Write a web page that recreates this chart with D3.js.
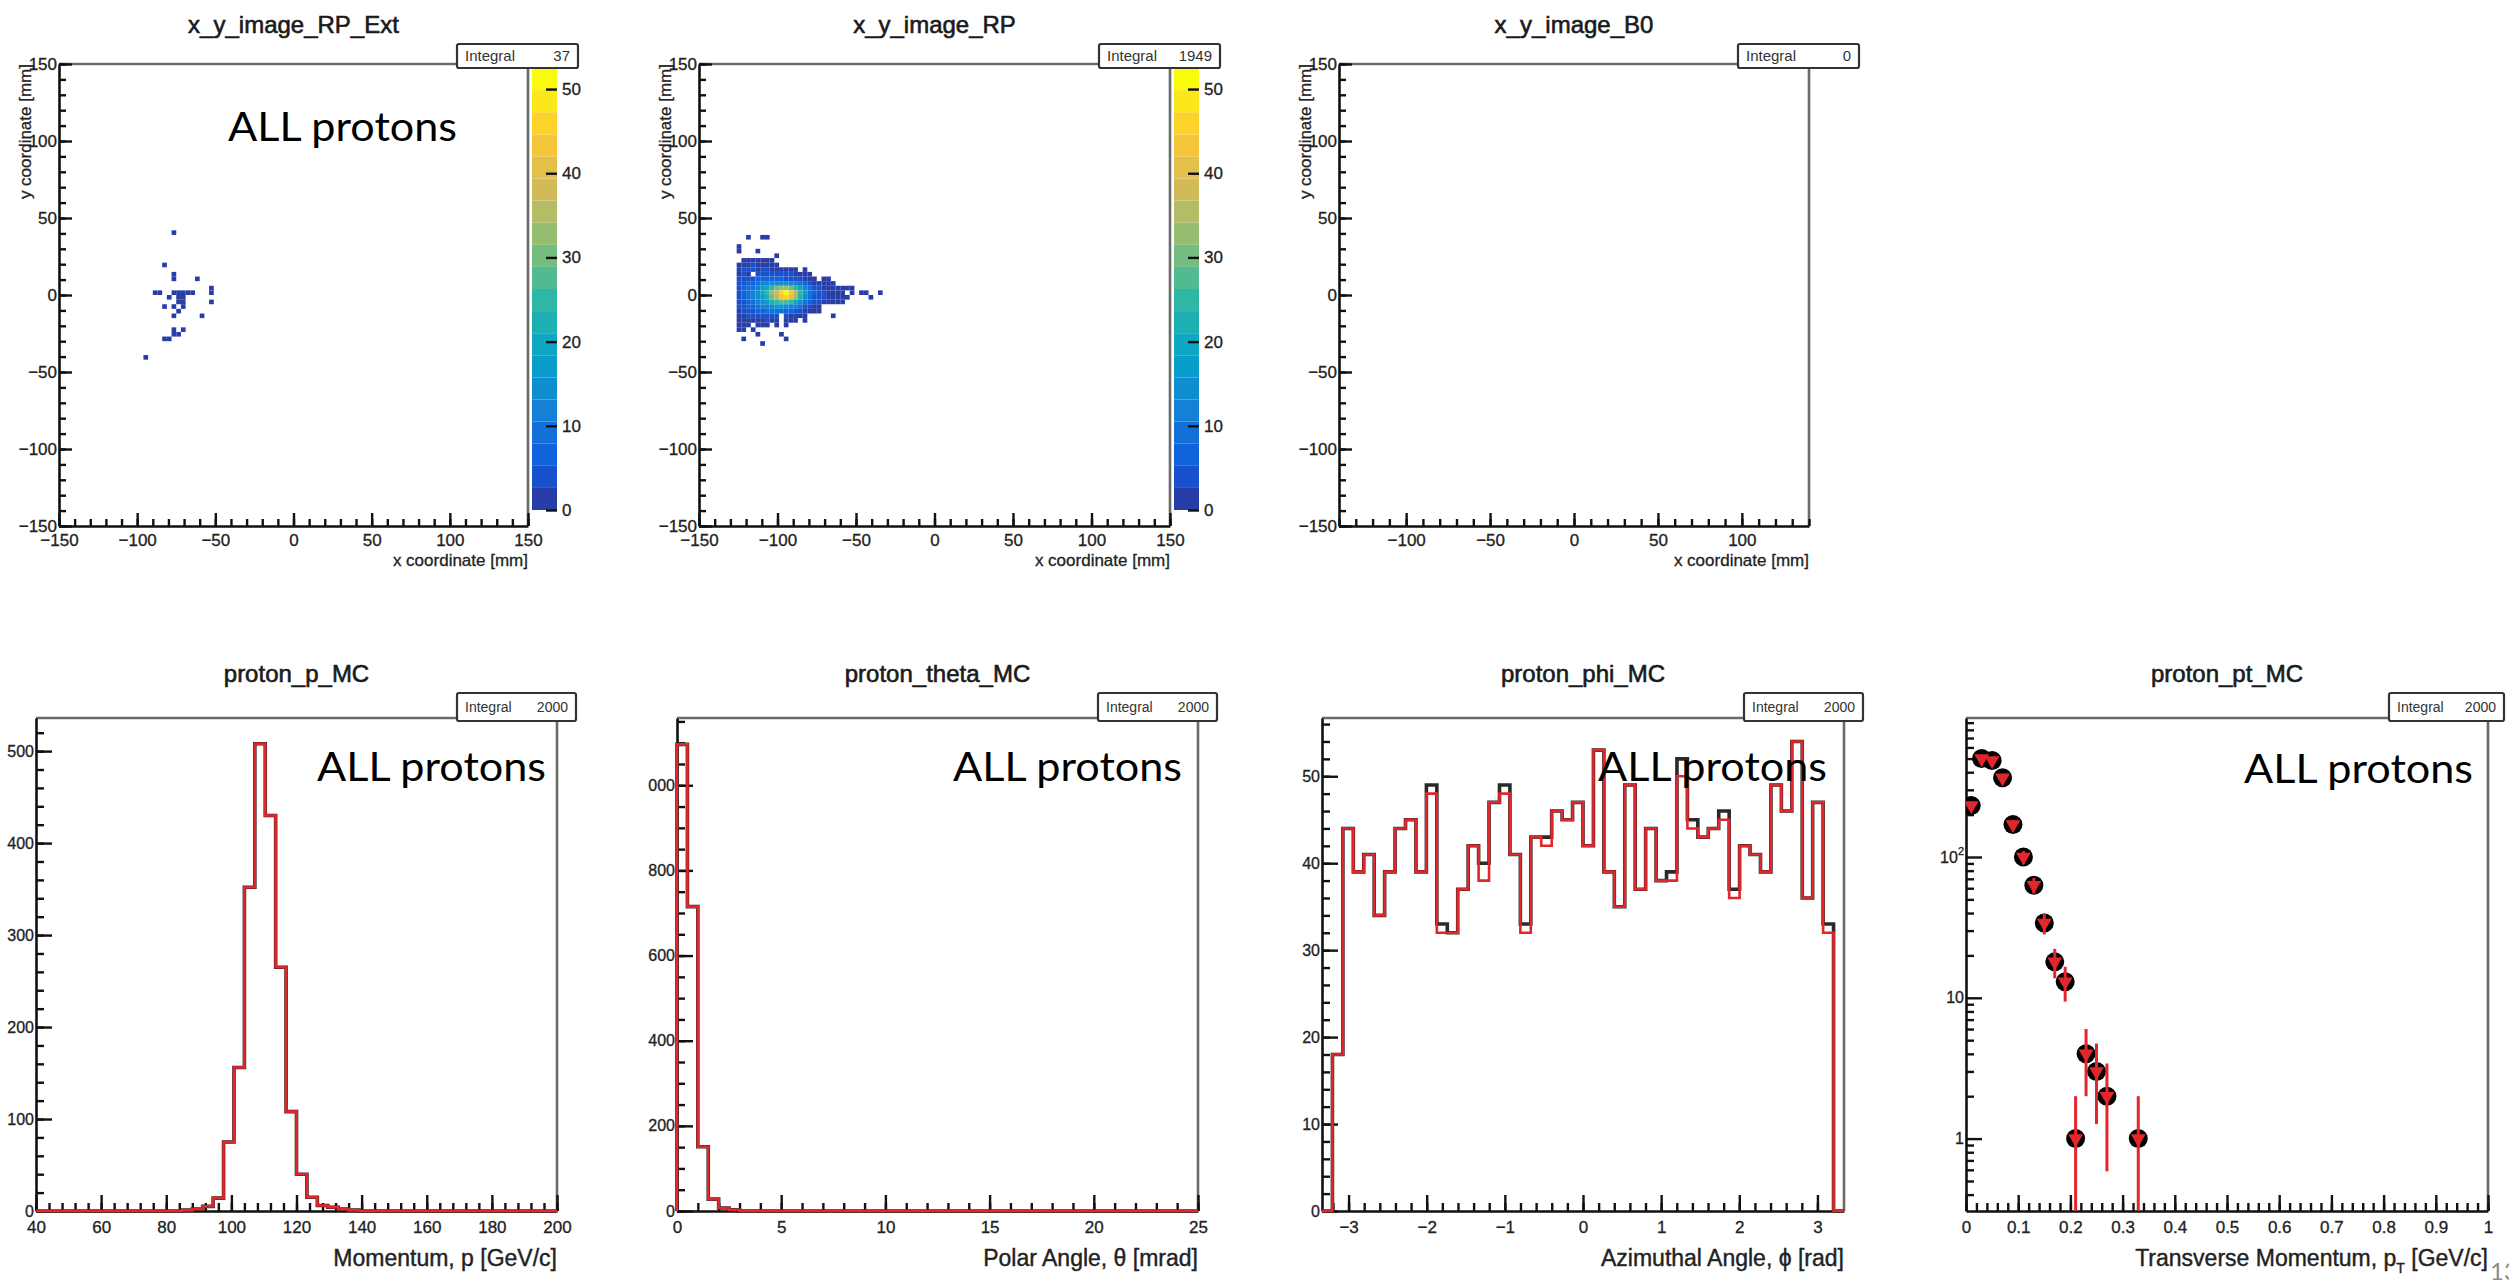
<!DOCTYPE html>
<html>
<head>
<meta charset="utf-8">
<title>proton plots</title>
<script src="https://cdn.jsdelivr.net/npm/d3@7/dist/d3.min.js"></script>
<style>
  body { margin: 0; background: #fff; }
  svg { display: block; }
</style>
</head>
<body>
<script>
var ROOTFONT = '"Liberation Sans", Arial, Helvetica, sans-serif'
var SLIDEFONT = 'Lato, "Open Sans", sans-serif'

// ---------- values ----------
var xyRange = [-150, 150]
var xyBinWidth = 3
var b0XRange = [-140, 140]
var xyMajor = [-150, -100, -50, 0, 50, 100, 150]
var b0Major = [-100, -50, 0, 50, 100]

var zMax = 52.5
var zLevels = 20
var zTicks = [0, 10, 20, 30, 40, 50]

// ROOT kBird palette
var birdStops = [0, 0.125, 0.25, 0.375, 0.5, 0.625, 0.75, 0.875, 1]
var birdR = [0.2082, 0.0592, 0.0780, 0.0232, 0.1802, 0.5301, 0.8186, 0.9956, 0.9764]
var birdG = [0.1664, 0.3599, 0.5041, 0.6419, 0.7178, 0.7492, 0.7328, 0.7862, 0.9832]
var birdB = [0.5293, 0.8684, 0.8385, 0.7914, 0.6425, 0.4662, 0.3499, 0.1968, 0.0539]

// x_y_image_RP_Ext  [binX, binY, entries]
var rpExtCells = [
  [24,63,1],[22,56,1],[24,54,1],[24,53,1],[29,53,1],[20,50,1],[21,50,1],[24,50,1],
  [25,50,2],[26,50,2],[27,50,1],[28,50,1],[23,49,1],[25,49,2],[26,49,2],[25,48,1],
  [26,48,1],[26,47,1],[32,51,1],[32,50,1],[32,48,1],[22,47,1],[24,47,1],[25,46,1],
  [24,45,1],[30,45,1],[24,42,1],[26,42,1],[24,41,1],[25,41,1],[22,40,1],[23,40,1],
  [18,36,1]
]

// x_y_image_RP  rows: binY, first binX, entries along x
var rpRows = [
  {y: 62, x0: 10, n: [1,0,0,1,1]},
  {y: 60, x0: 8,  n: [1]},
  {y: 59, x0: 8,  n: [1,0,0,0,1]},
  {y: 58, x0: 16, n: [1]},
  {y: 57, x0: 9,  n: [1,2,2,1,1,2,1]},
  {y: 56, x0: 8,  n: [1,2,1,3,2,2,2,1,1]},
  {y: 55, x0: 8,  n: [2,3,3,3,2,3,3,2,2,2,1,2,1,0,1]},
  {y: 54, x0: 8,  n: [2,3,2,0,3,4,4,4,3,3,3,3,2,2,1,1]},
  {y: 53, x0: 8,  n: [3,4,5,5,6,7,7,7,6,6,5,5,4,3,2,2,1,0,1,1]},
  {y: 52, x0: 8,  n: [3,5,6,7,9,11,13,14,15,15,15,13,11,8,6,4,2,2,1,1,1]},
  {y: 51, x0: 8,  n: [4,6,8,10,12,16,20,25,29,32,34,31,26,20,13,8,5,3,2,2,1,1,1,1,1]},
  {y: 50, x0: 8,  n: [5,7,9,11,14,19,25,32,39,45,50,44,35,25,16,10,6,4,3,2,2,1,1,0,1,0,1,1,0,0,1]},
  {y: 49, x0: 8,  n: [5,7,9,11,14,18,23,30,36,42,46,40,32,23,15,9,5,4,3,2,2,1,1,1,0,0,0,0,1]},
  {y: 48, x0: 8,  n: [4,5,7,9,11,14,18,22,26,28,28,25,20,15,10,6,4,3,2,1,1,1,1]},
  {y: 47, x0: 8,  n: [3,4,6,7,9,11,13,15,16,16,15,13,11,8,5,3,2,1]},
  {y: 46, x0: 8,  n: [2,3,4,5,6,7,8,8,8,8,7,6,5,3,2,1,1,1]},
  {y: 45, x0: 8,  n: [2,2,3,3,4,4,4,4,3,0,3,2,2,1,1,0,0,0,0,0,1]},
  {y: 44, x0: 8,  n: [1,2,2,2,2,2,3,2,2,0,2,1,1,0,1]},
  {y: 43, x0: 8,  n: [1,1,1,0,1,1,1,0,1,0,1]},
  {y: 42, x0: 8,  n: [1,1,0,1]},
  {y: 41, x0: 12, n: [1,0,0,0,0,1]},
  {y: 40, x0: 9,  n: [1,0,0,0,0,0,0,0,0,1]},
  {y: 39, x0: 13, n: [1]}
]

// proton_p_MC : 50 bins, 40..200 GeV/c
var pRange = [40, 200]
var pYMax = 536
var pCounts = [0,0,0,0,0,0,0,0,0,0, 0,0,0,0,1,2,5,14,75,156,
               352,508,430,265,108,40,15,6,4,2, 1,0,0,0,0,0,0,0,0,0,
               0,0,0,0,0,0,0,0,0,0]
var pMajor = [40, 60, 80, 100, 120, 140, 160, 180, 200]
var pYMajor = [0, 100, 200, 300, 400, 500]

// proton_theta_MC : 50 bins, 0..25 mrad
var thetaRange = [0, 25]
var thetaYMax = 1158
var thetaCounts = [1096,715,151,28,7,3,0,0,0,0, 0,0,0,0,0,0,0,0,0,0,
                   0,0,0,0,0,0,0,0,0,0, 0,0,0,0,0,0,0,0,0,0,
                   0,0,0,0,0,0,0,0,0,0]
var thetaMajor = [0, 5, 10, 15, 20, 25]
var thetaYMajor = [0, 200, 400, 600, 800, 1000]

// proton_phi_MC : 50 bins, black = first histogram, red = second
var phiRange = [-3.34, 3.34]
var phiYMax = 56.7
var phiCountsBlack = [0,18,44,39,41,34,39,44,45,39, 49,33,32,37,42,40,47,49,41,33,
                      43,43,46,45,47,42,53,39,35,49, 37,44,38,39,52,45,43,44,46,37,
                      42,41,39,49,46,54,36,47,33,0]
var phiCountsRed   = [0,18,44,39,41,34,39,44,45,39, 48,32,32,37,42,38,47,48,41,32,
                      43,42,46,45,47,42,53,39,35,49, 37,44,38,38,50,44,43,44,45,36,
                      42,41,39,49,46,54,36,47,32,0]
var phiMajor = [-3, -2, -1, 0, 1, 2, 3]
var phiYMajor = [0, 10, 20, 30, 40, 50]

// proton_pt_MC : bin centres (bin width 0.02 GeV/c) and entries
var ptCenters = [0.01,0.03,0.05,0.07,0.09,0.11,0.13,0.15,0.17,0.19,0.21,0.23,0.25,0.27,0.33]
var ptCounts  = [232,500,485,365,170,100,63,34,18,13,1,4,3,2,1]
var ptRange = [0, 1]
var ptYRange = [0.306, 971]
var ptMajor = [0,0.1,0.2,0.3,0.4,0.5,0.6,0.7,0.8,0.9,1]
var ptYMajor = [1, 10, 100]
var ptYMinor = [0.4,0.5,0.6,0.7,0.8,0.9,2,3,4,5,6,7,8,9,20,30,40,50,60,70,80,90,200,300,400,500,600,700,800,900]

// ---------- layout ----------
var topFrames = [
  {L: 59,   R: 528,  T: 64, B: 526},
  {L: 699,  R: 1170, T: 64, B: 526},
  {L: 1339, R: 1809, T: 64, B: 526}
]
var botFrames = [
  {L: 36,   R: 557,  T: 718, B: 1211},
  {L: 677,  R: 1198, T: 718, B: 1211},
  {L: 1322, R: 1844, T: 718, B: 1211},
  {L: 1966, R: 2488, T: 718, B: 1211}
]

var svg = d3.select('body').append('svg').attr('width', 2509).attr('height', 1282)
var defs = svg.append('defs')

function birdColor(t) {
  var i = 0
  while (i < birdStops.length - 2 && t > birdStops[i + 1]) i++
  var f = (t - birdStops[i]) / (birdStops[i + 1] - birdStops[i])
  function c(a) { return Math.round(255 * (a[i] + f * (a[i + 1] - a[i]))) }
  return d3.rgb(c(birdR), c(birdG), c(birdB)).formatHex()
}
function levelColor(i) {
  return birdColor(Math.floor((i + 0.99) * 255 / zLevels) / 254)
}
function fmt(d) { return (d < 0 ? '\u2212' : '') + Math.abs(d) }

function frame(f) {
  svg.append('path').attr('d', 'M' + f.L + ',' + f.T + 'H' + f.R + 'V' + f.B)
    .attr('fill', 'none').attr('stroke', '#6a6a6a').attr('stroke-width', 2.6)
}

function styleAxis(g, size) {
  g.select('.domain').attr('stroke', '#111').attr('stroke-width', 2.6)
  g.selectAll('.tick line').attr('stroke', '#111').attr('stroke-width', 2.4)
  g.selectAll('text').attr('font-family', ROOTFONT).attr('font-size', size || 17).attr('fill', '#222')
    .attr('stroke', '#222').attr('stroke-width', 0.3)
}

function drawAxes(f, x, y, o) {
  var gxm = svg.append('g').attr('transform', 'translate(0,' + f.B + ')')
    .call(d3.axisBottom(x).tickValues(o.xMinor).tickSize(-o.minor).tickSizeOuter(0).tickFormat(''))
  gxm.select('.domain').remove()
  styleAxis(gxm)
  var gym = svg.append('g').attr('transform', 'translate(' + f.L + ',0)')
    .call(d3.axisLeft(y).tickValues(o.yMinor).tickSize(-o.minor).tickSizeOuter(0).tickFormat(''))
  gym.select('.domain').remove()
  styleAxis(gym)
  var gx = svg.append('g').attr('transform', 'translate(0,' + f.B + ')')
    .call(d3.axisBottom(x).tickValues(o.xMajor).tickSize(-o.major).tickSizeOuter(0)
      .tickPadding(o.xPad).tickFormat(fmt))
  styleAxis(gx)
  var gy = svg.append('g').attr('transform', 'translate(' + f.L + ',0)')
    .call(d3.axisLeft(y).tickValues(o.yMajor).tickSize(-o.major).tickSizeOuter(0)
      .tickPadding(2).tickFormat(o.yFmt || fmt))
  styleAxis(gy, o.ySize)
  return gy
}

function statBox(x0, y0, w, h, value, size) {
  svg.append('rect').attr('x', x0).attr('y', y0).attr('width', w).attr('height', h)
    .attr('rx', 2).attr('fill', '#fff').attr('stroke', '#333').attr('stroke-width', 2.2)
  svg.append('text').attr('x', x0 + 8).attr('y', y0 + h / 2 + size * 0.36)
    .attr('font-family', ROOTFONT).attr('font-size', size).attr('fill', '#333').text('Integral')
  svg.append('text').attr('x', x0 + w - 8).attr('y', y0 + h / 2 + size * 0.36)
    .attr('text-anchor', 'end').attr('font-family', ROOTFONT).attr('font-size', size)
    .attr('fill', '#333').text(value)
}

function title(f, txt, y) {
  svg.append('text').attr('x', (f.L + f.R) / 2).attr('y', y).attr('text-anchor', 'middle')
    .attr('font-family', ROOTFONT).attr('font-size', 24).attr('fill', '#1a1a1a')
    .attr('stroke', '#1a1a1a').attr('stroke-width', 0.6).text(txt)
}

function allProtons(x, y) {
  svg.append('text').attr('x', x).attr('y', y)
    .attr('font-family', SLIDEFONT).attr('font-size', 40).attr('fill', '#000')
    .attr('textLength', 229).attr('lengthAdjust', 'spacingAndGlyphs').text('ALL protons')
}

// ---------- top row: x-y images ----------
var rpCells = []
rpRows.forEach(function (row) {
  row.n.forEach(function (n, i) { if (n > 0) rpCells.push([row.x0 + i, row.y, n]) })
})

var topSets = [
  {name: 'x_y_image_RP_Ext', cells: rpExtCells, xr: xyRange, major: xyMajor, integral: '37', palette: true},
  {name: 'x_y_image_RP',     cells: rpCells,    xr: xyRange, major: xyMajor, integral: '1949', palette: true},
  {name: 'x_y_image_B0',     cells: [],         xr: b0XRange, major: b0Major, integral: '0', palette: false}
]

topSets.forEach(function (s, k) {
  var f = topFrames[k]
  var x = d3.scaleLinear().domain(s.xr).range([f.L, f.R])
  var y = d3.scaleLinear().domain(xyRange).range([f.B, f.T])
  var band = zMax / zLevels
  frame(f)

  svg.append('g').selectAll('rect').data(s.cells).enter().append('rect')
    .attr('x', function (d) { return x(xyRange[0] + d[0] * xyBinWidth) })
    .attr('y', function (d) { return y(xyRange[0] + (d[1] + 1) * xyBinWidth) })
    .attr('width', function (d) { return x(xyRange[0] + (d[0] + 1) * xyBinWidth) - x(xyRange[0] + d[0] * xyBinWidth) })
    .attr('height', function (d) { return y(xyRange[0] + d[1] * xyBinWidth) - y(xyRange[0] + (d[1] + 1) * xyBinWidth) })
    .attr('fill', function (d) { return levelColor(Math.min(zLevels - 1, Math.floor(d[2] / band))) })

  drawAxes(f, x, y, {
    xMinor: d3.range(s.xr[0], s.xr[1] + 0.01, 10),
    yMinor: d3.range(xyRange[0], xyRange[1] + 0.01, 10),
    xMajor: s.major, yMajor: xyMajor, major: 13, minor: 7, xPad: 8
  })

  if (s.palette) {
    var z = d3.scaleLinear().domain([0, zMax]).range([510, 68])
    var bx = f.R + 4
    svg.append('g').selectAll('rect').data(d3.range(zLevels)).enter().append('rect')
      .attr('x', bx).attr('width', 25)
      .attr('y', function (i) { return z((i + 1) * band) })
      .attr('height', function (i) { return z(i * band) - z((i + 1) * band) })
      .attr('fill', function (i) { return levelColor(i) })
    var gz = svg.append('g').attr('transform', 'translate(' + (bx + 25) + ',0)')
      .call(d3.axisRight(z).tickValues(zTicks).tickSize(-11).tickSizeOuter(0).tickPadding(5).tickFormat(fmt))
    gz.select('.domain').remove()
    styleAxis(gz)
  }

  title(f, s.name, 33)
  svg.append('text').attr('x', f.R).attr('y', 566).attr('text-anchor', 'end')
    .attr('font-family', ROOTFONT).attr('font-size', 17).attr('fill', '#222')
    .attr('stroke', '#222').attr('stroke-width', 0.3).text('x coordinate [mm]')
  svg.append('text').attr('transform', 'translate(' + (f.L - 28) + ',' + f.T + ') rotate(-90)')
    .attr('text-anchor', 'end').attr('font-family', ROOTFONT).attr('font-size', 17)
    .attr('fill', '#222').attr('stroke', '#222').attr('stroke-width', 0.3).text('y coordinate [mm]')
  statBox(f.R - 71, 44, 121, 24, s.integral, 15)
})
allProtons(228, 141)

// ---------- bottom row: 1D distributions ----------
function histPoints(range, counts) {
  var w = (range[1] - range[0]) / counts.length
  var pts = [[range[0], 0]]
  counts.forEach(function (c, i) {
    pts.push([range[0] + i * w, c])
    pts.push([range[0] + (i + 1) * w, c])
  })
  pts.push([range[1], 0])
  return pts
}

function drawHist(x, y, counts, range, colour, width) {
  var line = d3.line().x(function (d) { return x(d[0]) }).y(function (d) { return y(d[1]) })
  svg.append('path').datum(histPoints(range, counts)).attr('d', line)
    .attr('fill', 'none').attr('stroke', colour).attr('stroke-width', width)
    .attr('stroke-linejoin', 'miter')
}

function xTitle(f, build) {
  var t = svg.append('text').attr('x', f.R).attr('y', 1266).attr('text-anchor', 'end')
    .attr('font-family', ROOTFONT).attr('font-size', 23).attr('fill', '#222')
    .attr('stroke', '#222').attr('stroke-width', 0.4)
  build(t)
}

var histSets = [
  {name: 'proton_p_MC', range: pRange, ymax: pYMax, black: pCounts, red: pCounts,
   xMajor: pMajor, xStep: 4, yMajor: pYMajor, yStep: 20, label: 'Momentum, p [GeV/c]'},
  {name: 'proton_theta_MC', range: thetaRange, ymax: thetaYMax, black: thetaCounts, red: thetaCounts,
   xMajor: thetaMajor, xStep: 1, yMajor: thetaYMajor, yStep: 50, label: 'Polar Angle, \u03b8 [mrad]'},
  {name: 'proton_phi_MC', range: phiRange, ymax: phiYMax, black: phiCountsBlack, red: phiCountsRed,
   xMajor: phiMajor, xStep: 0.2, yMajor: phiYMajor, yStep: 2, label: 'Azimuthal Angle, \u03d5 [rad]'}
]

// the theta pad edge cuts the leading digit of its y labels
defs.append('clipPath').attr('id', 'padclip').append('rect')
  .attr('x', 648).attr('y', 690).attr('width', 600).attr('height', 560)

histSets.forEach(function (s, k) {
  var f = botFrames[k]
  var x = d3.scaleLinear().domain(s.range).range([f.L, f.R])
  var y = d3.scaleLinear().domain([0, s.ymax]).range([f.B, f.T])
  frame(f)
  var x0 = Math.ceil(s.range[0] / s.xStep) * s.xStep
  var gy = drawAxes(f, x, y, {
    xMinor: d3.range(x0, s.range[1] + 1e-6, s.xStep),
    yMinor: d3.range(0, s.ymax, s.yStep),
    xMajor: s.xMajor, yMajor: s.yMajor, major: 16, minor: 8, xPad: 10, ySize: 16
  })
  if (k === 1) {
    var wrap = svg.append('g').attr('clip-path', 'url(#padclip)')
    wrap.node().appendChild(gy.node())
  }
  drawHist(x, y, s.black, s.range, '#2a2a2a', 3.6)
  drawHist(x, y, s.red, s.range, '#e3262c', 2.6)
  title(f, s.name, 682)
  xTitle(f, function (t) { t.text(s.label) })
  statBox(f.R - 100, 693, 119, 28, '2000', 14)
})

// transverse momentum, log scale with markers
;(function () {
  var f = botFrames[3]
  var x = d3.scaleLinear().domain(ptRange).range([f.L, f.R])
  var y = d3.scaleLog().domain(ptYRange).range([f.B, f.T])
  frame(f)
  var gy = drawAxes(f, x, y, {
    xMinor: d3.range(0, 1.0001, 0.02), yMinor: ptYMinor,
    xMajor: ptMajor, yMajor: ptYMajor, major: 16, minor: 8, xPad: 10, ySize: 16,
    yFmt: function (d) { return d === 100 ? '10' : String(d) }
  })
  gy.selectAll('text').filter(function (d) { return d === 100 })
    .append('tspan').attr('dy', -8).attr('font-size', 11).text('2')

  defs.append('clipPath').attr('id', 'ptclip').append('rect')
    .attr('x', f.L).attr('y', f.T).attr('width', f.R - f.L).attr('height', f.B - f.T)
  var pts = ptCenters.map(function (c, i) { return {x: c, n: ptCounts[i]} })
  var g = svg.append('g').attr('clip-path', 'url(#ptclip)')

  g.selectAll('circle').data(pts).enter().append('circle')
    .attr('cx', function (d) { return x(d.x) }).attr('cy', function (d) { return y(d.n) })
    .attr('r', 9.5).attr('fill', '#000')
  g.selectAll('line.err').data(pts).enter().append('line').attr('class', 'err')
    .attr('x1', function (d) { return x(d.x) }).attr('x2', function (d) { return x(d.x) })
    .attr('y1', function (d) { return y(Math.max(ptYRange[0], d.n - Math.sqrt(d.n))) })
    .attr('y2', function (d) { return y(d.n + Math.sqrt(d.n)) })
    .attr('stroke', '#e3262c').attr('stroke-width', 3)
  var tri = d3.symbol().type(d3.symbolTriangle).size(95)
  g.selectAll('path.tri').data(pts).enter().append('path').attr('class', 'tri')
    .attr('d', tri)
    .attr('transform', function (d) { return 'translate(' + x(d.x) + ',' + y(d.n) + ') rotate(180)' })
    .attr('fill', '#e3262c')

  title(f, 'proton_pt_MC', 682)
  xTitle(f, function (t) {
    t.text('Transverse Momentum, p')
    t.append('tspan').attr('font-size', 14).attr('dy', 7).text('T')
    t.append('tspan').attr('dy', -7).text(' [GeV/c]')
  })
  statBox(f.R - 99, 693, 115, 28, '2000', 14)
})()

allProtons(317, 781)
allProtons(953, 781)
allProtons(1598, 781)
allProtons(2244, 783)

// slide page number in the corner
svg.append('text').attr('x', 2490).attr('y', 1280)
  .attr('font-family', SLIDEFONT).attr('font-size', 24).attr('fill', '#8a8a8a').text('13')
</script>
</body>
</html>
